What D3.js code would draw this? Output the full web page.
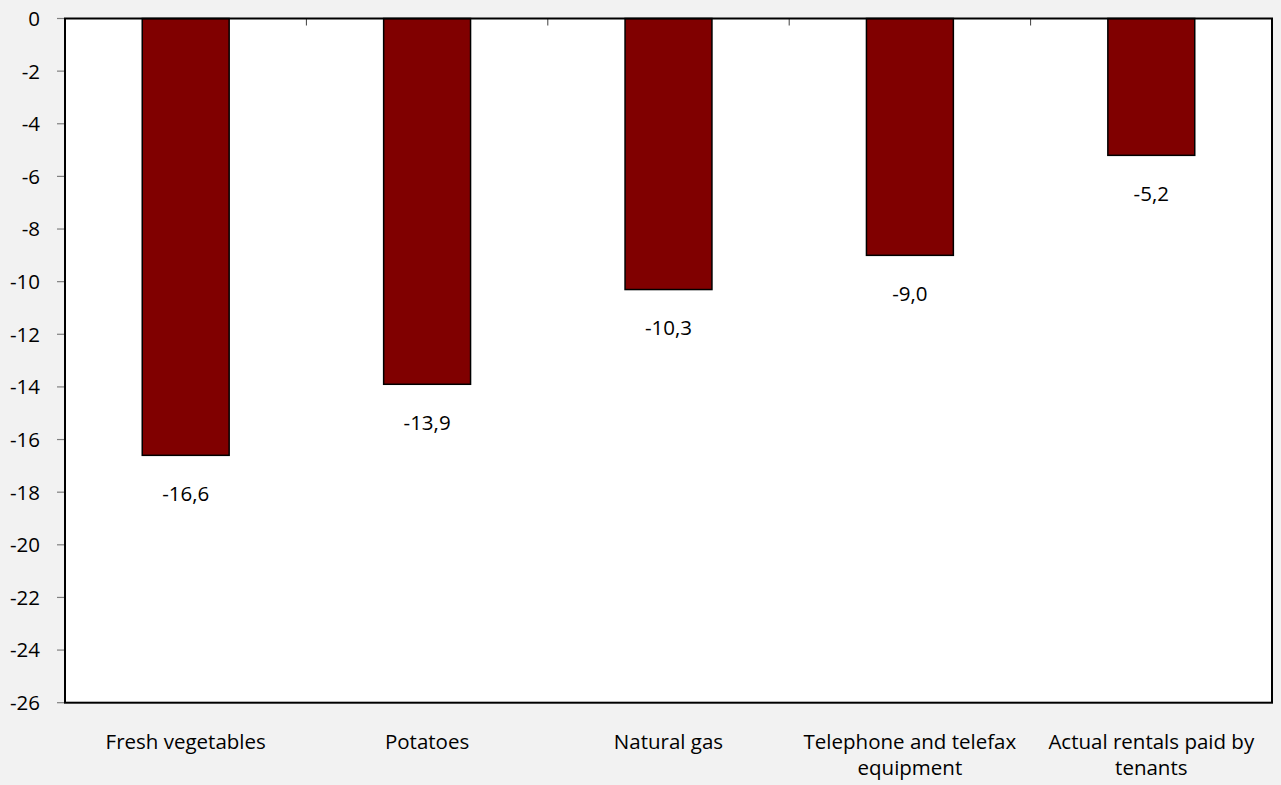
<!DOCTYPE html>
<html><head><meta charset="utf-8">
<script src="https://cdn.jsdelivr.net/npm/d3@7"></script>
<style>
html,body{margin:0;padding:0;background:#f2f2f2;}
svg{display:block;}
text{font-family:"Open Sans",sans-serif;fill:#000;}
</style></head><body>
<svg id="c" width="1281" height="785"></svg>
<script>
const categories = [["Fresh vegetables"],["Potatoes"],["Natural gas"],["Telephone and telefax","equipment"],["Actual rentals paid by","tenants"]];
const values = [-16.6, -13.9, -10.3, -9.0, -5.2];
const yTicks = [0,-2,-4,-6,-8,-10,-12,-14,-16,-18,-20,-22,-24,-26];

const FS = 20.5;
const svg = d3.select("#c");
const L = 65, R = 1272, T = 18.5, B = 702.7;
const x = d3.scaleBand().domain(d3.range(values.length)).range([L, R]).paddingInner(0.64).paddingOuter(0.32);
const xb = d3.scaleBand().domain(d3.range(values.length)).range([L, R]);
const y = d3.scaleLinear().domain([-26, 0]).range([B, T]);

svg.append("rect").attr("x", L).attr("y", T).attr("width", R-L).attr("height", B-T).attr("fill", "#fff");

// bars
svg.selectAll("rect.bar").data(values).enter().append("rect")
  .attr("x", (d,i)=>x(i)).attr("y", y(0)).attr("width", x.bandwidth())
  .attr("height", d=>y(d)-y(0)).attr("fill", "#800000").attr("stroke", "#000").attr("stroke-width", 1.5);

// value labels
svg.selectAll("text.val").data(values).enter().append("text")
  .attr("x", (d,i)=>x(i)+x.bandwidth()/2).attr("y", d=>y(d)+38).attr("dy","0.36em")
  .attr("text-anchor","middle").attr("font-size", FS)
  .text(d=>d3.format(".1f")(d).replace(".", ",").replace("−","-"));

// y axis ticks
const ya = svg.append("g");
yTicks.forEach(t=>{
  ya.append("line").attr("x1", L-8).attr("x2", L).attr("y1", y(t)).attr("y2", y(t)).attr("stroke","#808080").attr("stroke-width",1.2);
  ya.append("text").attr("x", 40).attr("y", y(t)).attr("dy","0.36em").attr("text-anchor","end").attr("font-size",FS).text(t);
});

// category separator ticks at top
d3.range(1, values.length).forEach(i=>{
  svg.append("line").attr("x1", xb(i)).attr("x2", xb(i)).attr("y1", T).attr("y2", T+7).attr("stroke","#404040").attr("stroke-width",1);
});

// plot border
svg.append("rect").attr("x", L).attr("y", T).attr("width", R-L).attr("height", B-T).attr("fill","none").attr("stroke","#000").attr("stroke-width",2);

// category labels
categories.forEach((lines,i)=>{
  const t = svg.append("text").attr("x", xb(i)+xb.bandwidth()/2).attr("y", 749).attr("text-anchor","middle").attr("font-size",FS);
  lines.forEach((ln,j)=>t.append("tspan").attr("x", xb(i)+xb.bandwidth()/2).attr("dy", j===0?0:26).text(ln));
});
</script>
</body></html>
